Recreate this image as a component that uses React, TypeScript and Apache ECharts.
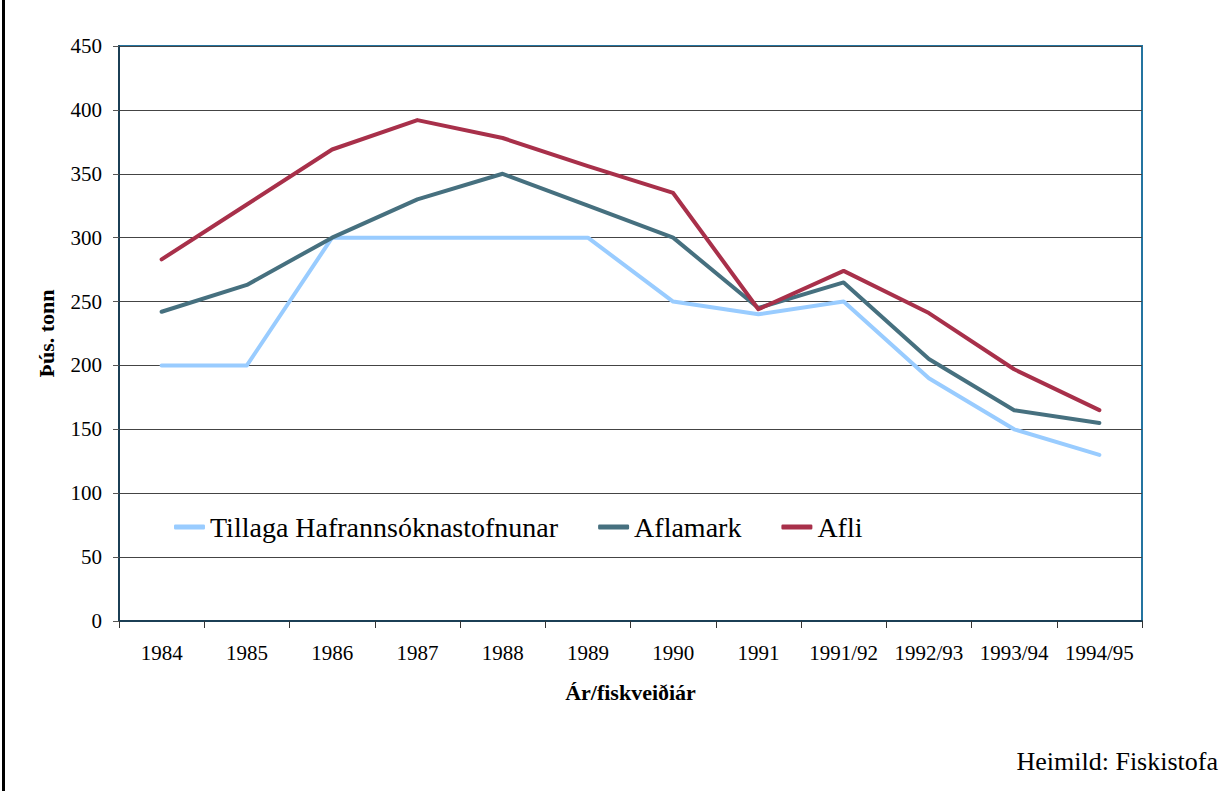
import React, { useEffect, useRef } from "react";
import * as echarts from "echarts";

const categories = ["1984", "1985", "1986", "1987", "1988", "1989", "1990", "1991", "1991/92", "1992/93", "1993/94", "1994/95"];
const tillaga = [200, 200, 300, 300, 300, 300, 250, 240, 250, 190, 150, 130];
const aflamark = [242, 263, 300, 330, 350, 325, 300, 245, 265, 205, 165, 155];
const afli = [283, 326, 369, 392, 378, 356, 335, 244, 274, 241, 197, 165];

const seriesNames = ["Tillaga Hafrannsóknastofnunar", "Aflamark", "Afli"];
const yAxisTitle = "Þús. tonn";
const xAxisTitle = "Ár/fiskveiðiár";
const sourceText = "Heimild: Fiskistofa";

const FONT = "Liberation Serif";

export default function App() {
  const ref = useRef<HTMLDivElement>(null);
  useEffect(() => {
    document.body.style.margin = "0";
    const chart = echarts.init(ref.current!, null, { renderer: "svg" });
    const mkSeries = (name: string, data: number[], color: string) => ({
      name,
      type: "line",
      data,
      symbol: "none",
      lineStyle: { color, width: 4, cap: "round", join: "round" },
      itemStyle: { color },
    });
    chart.setOption({
      animation: false,
      backgroundColor: "#ffffff",
      textStyle: { fontFamily: FONT },
      grid: {
        left: 119,
        right: 82,
        top: 46,
        bottom: 170,
        show: true,
        borderColor: "#2474A0",
        borderWidth: 2,
        backgroundColor: "transparent",
      },
      legend: {
        left: 174,
        top: 513,
        padding: 0,
        itemGap: 40,
        itemWidth: 31,
        itemHeight: 5,
        icon: "roundRect",
        textStyle: { fontFamily: FONT, fontSize: 28, color: "#000" },
        data: seriesNames,
      },
      xAxis: {
        type: "category",
        data: categories,
        boundaryGap: true,
        name: xAxisTitle,
        nameLocation: "middle",
        nameGap: 60,
        nameTextStyle: { fontFamily: FONT, fontSize: 22, fontWeight: "bold", color: "#000" },
        axisLine: { show: true, lineStyle: { color: "#1B3F55", width: 2 } },
        axisTick: { show: true, length: 7, lineStyle: { color: "#333" } },
        axisLabel: { fontFamily: FONT, fontSize: 21, color: "#000", margin: 21, interval: 0 },
        splitLine: { show: false },
      },
      yAxis: {
        type: "value",
        min: 0,
        max: 450,
        interval: 50,
        name: yAxisTitle,
        nameLocation: "middle",
        nameGap: 62,
        nameRotate: 90,
        nameTextStyle: { fontFamily: FONT, fontSize: 22, fontWeight: "bold", color: "#000" },
        axisLine: { show: true, lineStyle: { color: "#1B3F55", width: 2 } },
        axisTick: { show: true, length: 6, lineStyle: { color: "#555" } },
        axisLabel: { fontFamily: FONT, fontSize: 21, color: "#000", margin: 17 },
        splitLine: { show: true, lineStyle: { color: "#444", width: 1 } },
      },
      graphic: [
        { type: "rect", left: 2, top: 0, shape: { width: 3, height: 791 }, style: { fill: "#000" } },
        {
          type: "text",
          right: 6,
          top: 748,
          style: { text: sourceText, font: `26px ${FONT}`, fill: "#000" },
        },
      ],
      series: [
        mkSeries(seriesNames[0], tillaga, "#99CCFF"),
        mkSeries(seriesNames[1], aflamark, "#46707F"),
        mkSeries(seriesNames[2], afli, "#A8304A"),
      ],
    });
    return () => chart.dispose();
  }, []);
  return <div ref={ref} style={{ width: 1224, height: 791, position: "absolute", left: 0, top: 0 }} />;
}
